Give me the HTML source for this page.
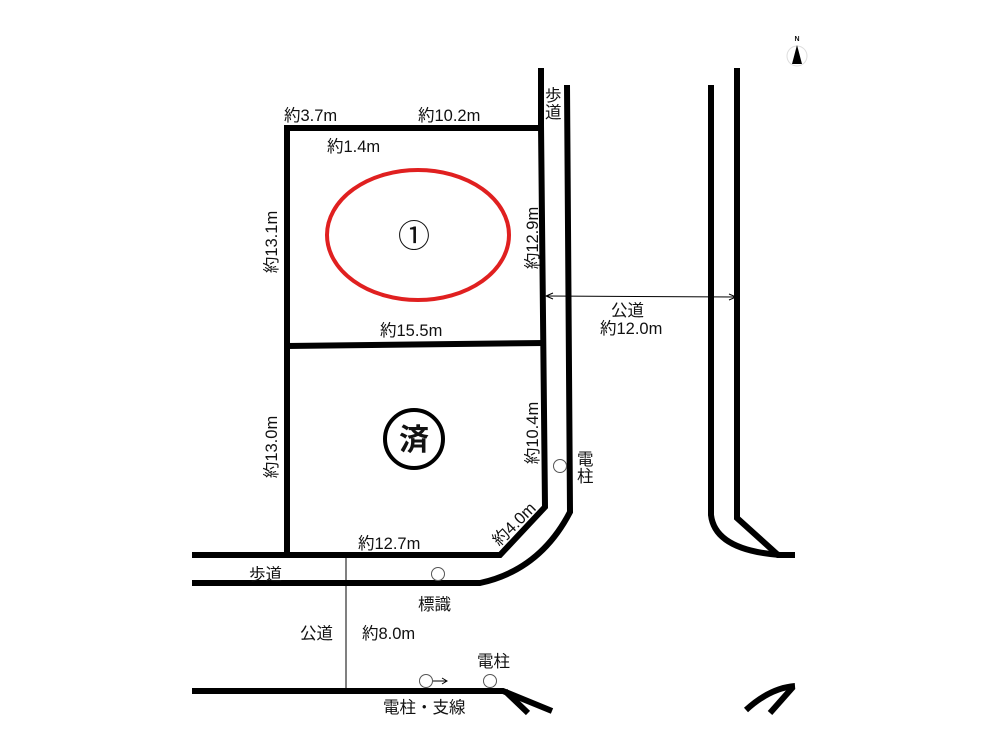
<!DOCTYPE html>
<html><head><meta charset="utf-8"><style>
html,body{margin:0;padding:0;background:#fff;}
svg{display:block;}
text{font-family:"Liberation Sans","Noto Sans CJK JP",sans-serif;fill:#111;}
</style></head><body>
<svg width="1000" height="750" viewBox="0 0 1000 750" xmlns="http://www.w3.org/2000/svg" font-size="16.5">
<g stroke="#000" stroke-width="6" fill="none" stroke-linecap="butt" stroke-linejoin="miter">
<polyline points="541,68 541,128 284,128"/>
<line x1="287" y1="128" x2="287" y2="555"/>
<polyline points="541,125 545,507 500,555 192,555"/>
<line x1="287" y1="346" x2="545" y2="343"/>
<path d="M567,85 L570,512 Q540,570 480,583 L192,583"/>
<path d="M711,85 L711,515 Q715,550 780,555"/>
<path d="M737,68 L737,518 L778,555 L795,555"/>
<polyline points="192,691 503,691 552,711"/>
<line x1="505" y1="691" x2="528" y2="713"/>
<path d="M746,710 Q770,688 795,686"/>
<line x1="793" y1="687" x2="770" y2="713"/>
</g>
<line x1="346" y1="558" x2="346" y2="690" stroke="#000" stroke-width="1"/>
<line x1="546" y1="296" x2="736" y2="297" stroke="#000" stroke-width="1"/>
<polyline points="553,293 546,296 553,299" fill="none" stroke="#000" stroke-width="1"/>
<polyline points="729,294 736,297 729,300" fill="none" stroke="#000" stroke-width="1"/>
<ellipse cx="418" cy="235" rx="91" ry="65" fill="none" stroke="#e02020" stroke-width="4"/>
<text x="414" y="247" font-size="32" text-anchor="middle">①</text>
<circle cx="414" cy="439" r="29" fill="none" stroke="#000" stroke-width="4"/>
<text x="414" y="450" font-size="30" text-anchor="middle" font-weight="bold">済</text>
<g fill="#fff" stroke="#555" stroke-width="1">
<circle cx="560" cy="466" r="6.5"/>
<circle cx="438" cy="574" r="6.5"/>
<circle cx="426" cy="681" r="6.5"/>
<circle cx="490" cy="681" r="6.5"/>
</g>
<line x1="433" y1="681" x2="446" y2="681" stroke="#000" stroke-width="1"/>
<polyline points="442,678 447,681 442,684" fill="none" stroke="#000" stroke-width="1"/>
<circle cx="797" cy="56" r="10" fill="none" stroke="#ddd" stroke-width="1"/>
<polygon points="797,45 792,64 802,64" fill="#000"/>
<text x="797" y="41" font-size="7" text-anchor="middle" font-weight="bold">N</text>
<text x="284" y="121">約3.7m</text>
<text x="418" y="121">約10.2m</text>
<text x="327" y="152">約1.4m</text>
<text x="380" y="336">約15.5m</text>
<text x="358" y="549">約12.7m</text>
<text x="249" y="580">歩道</text>
<text x="418" y="610">標識</text>
<text x="300" y="639">公道</text>
<text x="362" y="639">約8.0m</text>
<text x="477" y="667">電柱</text>
<text x="383" y="713">電柱・支線</text>
<text x="611" y="316">公道</text>
<text x="600" y="334">約12.0m</text>
<text x="545" y="101">歩</text>
<text x="545" y="118">道</text>
<text x="577" y="465">電</text>
<text x="577" y="482">柱</text>
<text transform="translate(277,242) rotate(-90)" text-anchor="middle">約13.1m</text>
<text transform="translate(277,447) rotate(-90)" text-anchor="middle">約13.0m</text>
<text transform="translate(538,238) rotate(-90)" text-anchor="middle">約12.9m</text>
<text transform="translate(538,433) rotate(-90)" text-anchor="middle">約10.4m</text>
<text transform="translate(518,528) rotate(-45)" text-anchor="middle">約4.0m</text>
</svg>
</body></html>
